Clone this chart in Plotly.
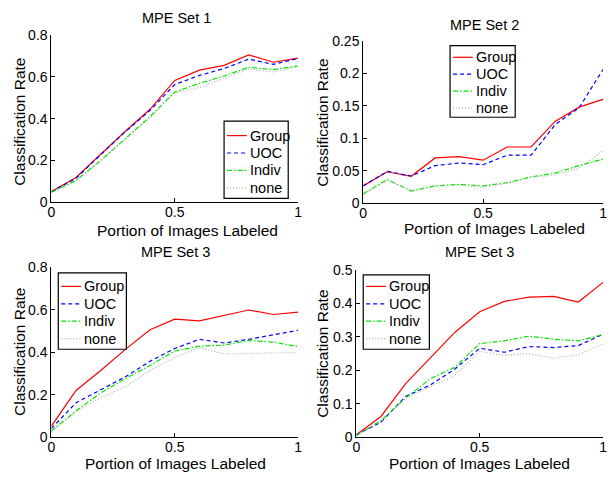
import plotly.graph_objects as go

x_portion = [0, 0.1, 0.2, 0.3, 0.4, 0.5, 0.6, 0.7, 0.8, 0.9, 1.0]
series_names = ["Group", "UOC", "Indiv", "none"]

set1_group = [0.052, 0.119, 0.23, 0.34, 0.445, 0.583, 0.632, 0.655, 0.705, 0.67, 0.69]
set1_uoc = [0.05, 0.115, 0.228, 0.338, 0.44, 0.563, 0.607, 0.64, 0.685, 0.66, 0.688]
set1_indiv = [0.048, 0.105, 0.2, 0.305, 0.41, 0.527, 0.569, 0.604, 0.646, 0.635, 0.652]
set1_none = [0.045, 0.1, 0.2, 0.3, 0.405, 0.524, 0.549, 0.595, 0.638, 0.623, 0.649]

set2_group = [0.0267, 0.0485, 0.0416, 0.0698, 0.0718, 0.0663, 0.0866, 0.0866, 0.126, 0.148, 0.16]
set2_uoc = [0.027, 0.049, 0.042, 0.058, 0.062, 0.0594, 0.074, 0.074, 0.121, 0.147, 0.206]
set2_indiv = [0.0144, 0.0366, 0.0188, 0.0267, 0.029, 0.0267, 0.0317, 0.0406, 0.0465, 0.058, 0.068]
set2_none = [0.0134, 0.035, 0.0198, 0.0277, 0.028, 0.0243, 0.0307, 0.0396, 0.0436, 0.054, 0.081]

set3a_group = [0.052, 0.22, 0.314, 0.413, 0.505, 0.555, 0.547, 0.572, 0.598, 0.577, 0.588]
set3a_uoc = [0.041, 0.162, 0.223, 0.284, 0.357, 0.417, 0.46, 0.443, 0.46, 0.481, 0.503]
set3a_indiv = [0.03, 0.124, 0.208, 0.276, 0.337, 0.405, 0.428, 0.433, 0.455, 0.447, 0.426]
set3a_none = [0.026, 0.12, 0.185, 0.238, 0.314, 0.375, 0.42, 0.392, 0.393, 0.397, 0.397]

set3b_group = [0.007, 0.062, 0.16, 0.238, 0.314, 0.375, 0.406, 0.419, 0.421, 0.404, 0.463]
set3b_uoc = [0.007, 0.045, 0.122, 0.156, 0.204, 0.266, 0.254, 0.271, 0.268, 0.274, 0.308]
set3b_indiv = [0.005, 0.05, 0.117, 0.175, 0.209, 0.28, 0.288, 0.302, 0.293, 0.288, 0.307]
set3b_none = [0.005, 0.045, 0.117, 0.151, 0.185, 0.257, 0.245, 0.25, 0.236, 0.247, 0.279]

panel_titles = ["MPE Set 1", "MPE Set 2", "MPE Set 3", "MPE Set 3"]
x_title = "Portion of Images Labeled"
y_title = "Classification Rate"

panels = [
    [set1_group, set1_uoc, set1_indiv, set1_none],
    [set2_group, set2_uoc, set2_indiv, set2_none],
    [set3a_group, set3a_uoc, set3a_indiv, set3a_none],
    [set3b_group, set3b_uoc, set3b_indiv, set3b_none],
]
y_ranges = [[0, 0.8], [0, 0.25], [0, 0.8], [0, 0.5]]
y_tickvals = [
    [0, 0.2, 0.4, 0.6, 0.8],
    [0, 0.05, 0.1, 0.15, 0.2, 0.25],
    [0, 0.2, 0.4, 0.6, 0.8],
    [0, 0.1, 0.2, 0.3, 0.4, 0.5],
]
y_ticktext = [
    ["0", "0.2", "0.4", "0.6", "0.8"],
    ["0", "0.05", "0.1", "0.15", "0.2", "0.25"],
    ["0", "0.2", "0.4", "0.6", "0.8"],
    ["0", "0.1", "0.2", "0.3", "0.4", "0.5"],
]

W, H = 610, 480
FONT = "Liberation Sans, Arial, Helvetica, sans-serif"

# plot-area boxes in pixels: (left, right, top, bottom)
boxes = [(48, 298, 28, 201), (364, 607, 34, 202), (48, 298, 268, 444), (357, 607, 271, 444)]
styles = [
    dict(color="#ff0000", dash="solid"),
    dict(color="#0000ff", dash="4px,3px"),
    dict(color="#00e600", dash="5px,2px,1.5px,2px"),
    dict(color="#b0b0b0", dash="1px,2px"),
]
# legend boxes in pixels: (left, top, right, bottom, first-item y, item step)
legend_boxes = [
    (223, 117, 288, 197, 132, 18),
    (452, 39, 518, 113, 51, 17.5),
    (55, 274, 124, 353, 288, 18),
    (364, 276, 431, 353, 288, 18),
]
title_pos = [(175, 10), (487, 18), (174, 252), (482, 252)]
xt_pos = [(186, 230), (497, 228), (174, 471), (482, 471)]
yt_pos = [(15, 118), (322, 119), (15, 356), (322, 358)]

fig = go.Figure()
annotations = []
shapes = []
layout = dict(
    width=W, height=H, margin=dict(l=0, r=0, t=0, b=0),
    paper_bgcolor="white", plot_bgcolor="white",
    font=dict(family=FONT, color="black"),
    showlegend=False,
)

def px(x):
    return x / W

def py(y):
    return 1 - y / H

for i in range(4):
    sfx = "" if i == 0 else str(i + 1)
    for j, name in enumerate(series_names):
        fig.add_trace(go.Scatter(
            x=x_portion, y=panels[i][j], mode="lines", name=name,
            line=dict(width=1.2, **styles[j]),
            xaxis="x" + sfx, yaxis="y" + sfx,
        ))
    l, r, t, b = boxes[i]
    axis_common = dict(
        showline=True, linecolor="black", linewidth=1, mirror=False,
        ticks="inside", ticklen=4, tickcolor="black",
        showgrid=False, zeroline=False,
        tickfont=dict(size=14, family=FONT), fixedrange=True,
    )
    layout["xaxis" + sfx] = dict(
        domain=[px(l), px(r)], range=[0, 1], anchor="y" + sfx,
        tickvals=[0, 0.5, 1], ticktext=["0", "0.5", "1"],
        ticklabelstandoff=-3, **axis_common,
    )
    layout["yaxis" + sfx] = dict(
        domain=[py(b), py(t)], range=y_ranges[i], anchor="x" + sfx,
        tickvals=y_tickvals[i], ticktext=y_ticktext[i], **axis_common,
    )

    # legend
    lx0, ly0, lx1, ly1, iy0, step = legend_boxes[i]
    shapes.append(dict(type="rect", xref="paper", yref="paper",
                       x0=px(lx0), x1=px(lx1), y0=py(ly1), y1=py(ly0),
                       line=dict(color="black", width=1.2), fillcolor="white", layer="above"))
    for j, name in enumerate(series_names):
        yy = iy0 + j * step
        shapes.append(dict(type="line", xref="paper", yref="paper",
                           x0=px(lx0 + 3), x1=px(lx0 + 23), y0=py(yy), y1=py(yy),
                           line=dict(width=1.2, **styles[j]), layer="above"))
        annotations.append(dict(text=name, x=px(lx0 + 24), y=py(yy), xref="paper", yref="paper",
                                showarrow=False, xanchor="left", yanchor="middle",
                                font=dict(size=14.5, family=FONT)))

    tx, ty = title_pos[i]
    annotations.append(dict(
        text=panel_titles[i], x=px(tx), y=py(ty), xref="paper", yref="paper",
        showarrow=False, xanchor="center", yanchor="middle", font=dict(size=14.5, family=FONT)))
    xx, xy = xt_pos[i]
    annotations.append(dict(
        text=x_title, x=px(xx), y=py(xy), xref="paper", yref="paper",
        showarrow=False, xanchor="center", yanchor="middle", font=dict(size=15.5, family=FONT)))
    yx, yy = yt_pos[i]
    annotations.append(dict(
        text=y_title, x=px(yx), y=py(yy), xref="paper", yref="paper", textangle=-90,
        showarrow=False, xanchor="center", yanchor="middle", font=dict(size=15.5, family=FONT)))

layout["annotations"] = annotations
layout["shapes"] = shapes
fig.update_layout(**layout)
fig.write_html("out.html")
